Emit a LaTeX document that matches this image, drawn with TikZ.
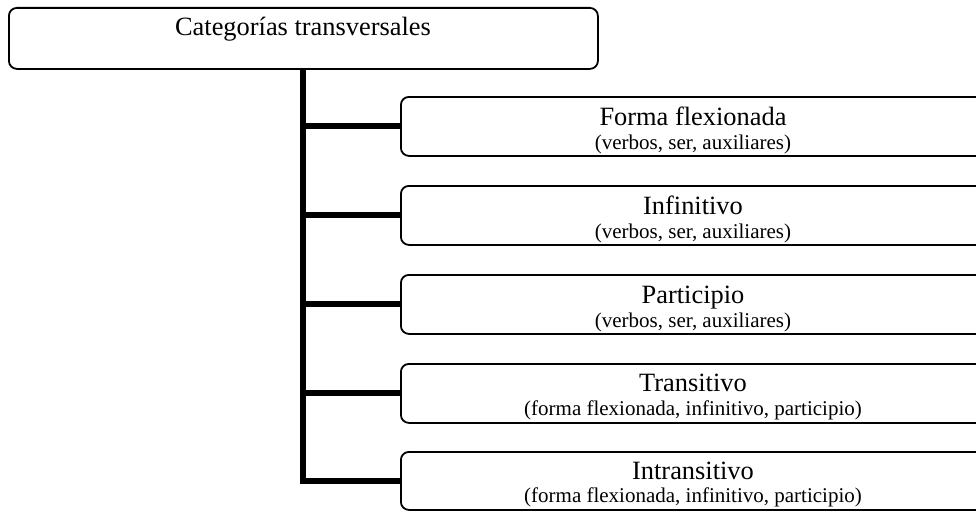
\documentclass[tikz,border=0pt]{standalone}
\usepackage{fontspec}
\setmainfont{Liberation Serif}
\tikzset{
  box/.style={draw, line width=1.8pt, rounded corners=8pt, fill=white, minimum height=59pt, inner sep=0pt, anchor=north west},
  conn/.style={line width=6pt},
  ttl/.style={anchor=base, inner sep=0pt, font=\fontsize{26.4}{30}\selectfont},
  sub/.style={anchor=base, inner sep=0pt, font=\fontsize{21}{25}\selectfont}
}
\begin{document}
\begin{tikzpicture}[x=1pt,y=-1pt]
\useasboundingbox (0,0) rectangle (976,511);
\clip (0,0) rectangle (976,511);
\node[box, minimum width=589pt, minimum height=61pt] (top) at (8,7) {};
\node[ttl] (topt) at (303,36) {Categorías transversales};
\node[box, minimum width=620pt] (c1) at (400,96) {};
\node[box, minimum width=620pt] (c2) at (400,185) {};
\node[box, minimum width=620pt] (c3) at (400,274) {};
\node[box, minimum width=620pt] (c4) at (400,363) {};
\node[box, minimum width=620pt, minimum height=58pt] (c5) at (400,451) {};
\draw[conn] (top.south) |- (c5.west);
\foreach \c in {c1,c2,c3,c4}{\draw[conn] (top.south |- \c.west) -- (\c.west);}
\node[ttl] (t1) at (693,125) {Forma flexionada};
\node[sub] (s1) at (693,149) {(verbos, ser, auxiliares)};
\node[ttl] (t2) at (693,214) {Infinitivo};
\node[sub] (s2) at (693,238) {(verbos, ser, auxiliares)};
\node[ttl] (t3) at (693,303) {Participio};
\node[sub] (s3) at (693,327) {(verbos, ser, auxiliares)};
\node[ttl] (t4) at (693,391) {Transitivo};
\node[sub] (s4) at (693,415) {(forma flexionada, infinitivo, participio)};
\node[ttl] (t5) at (693,479) {Intransitivo};
\node[sub] (s5) at (693,502) {(forma flexionada, infinitivo, participio)};
\end{tikzpicture}
\end{document}
